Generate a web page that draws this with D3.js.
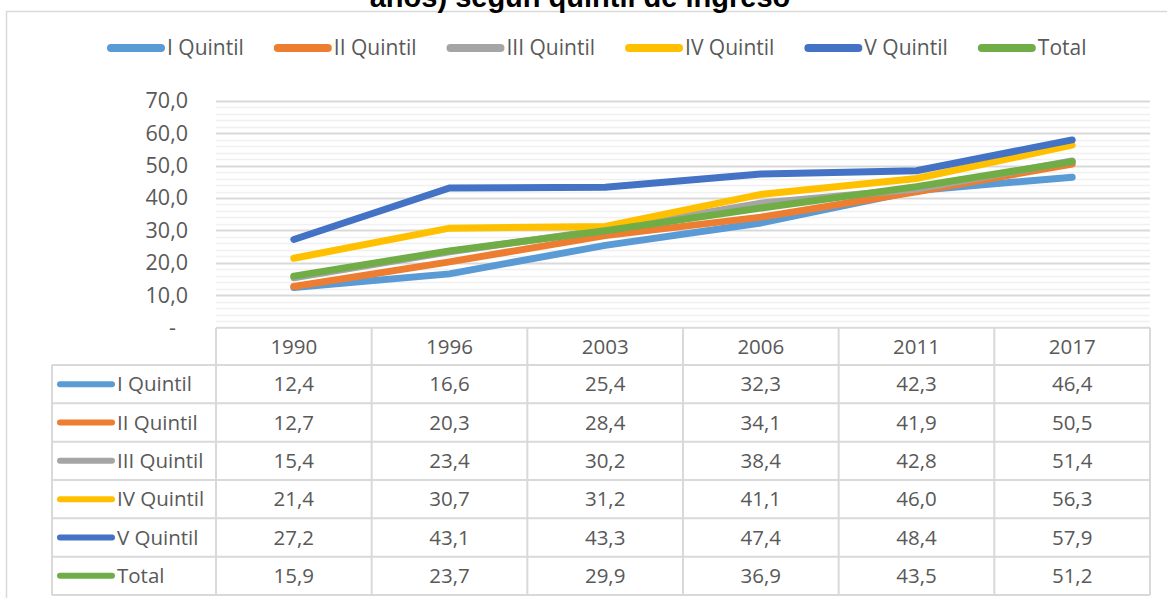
<!DOCTYPE html>
<html>
<head>
<meta charset="utf-8">
<script src="https://cdn.jsdelivr.net/npm/d3@7"></script>
<style>
  body { margin: 0; background: #fff; }
  svg { display: block; font-family: "Open Sans", sans-serif; }
</style>
</head>
<body>
<div id="chart"></div>
<script>
const years = ["1990", "1996", "2003", "2006", "2011", "2017"];
const seriesNames = ["I Quintil", "II Quintil", "III Quintil", "IV Quintil", "V Quintil", "Total"];
const seriesColors = ["#5B9BD5", "#ED7D31", "#A5A5A5", "#FFC000", "#4472C4", "#70AD47"];
const quintil1 = [12.4, 16.6, 25.4, 32.3, 42.3, 46.4];
const quintil2 = [12.7, 20.3, 28.4, 34.1, 41.9, 50.5];
const quintil3 = [15.4, 23.4, 30.2, 38.4, 42.8, 51.4];
const quintil4 = [21.4, 30.7, 31.2, 41.1, 46.0, 56.3];
const quintil5 = [27.2, 43.1, 43.3, 47.4, 48.4, 57.9];
const total = [15.9, 23.7, 29.9, 36.9, 43.5, 51.2];
const yTicks = [0, 10, 20, 30, 40, 50, 60, 70];
const titleText = "años) según quintil de ingreso";

const values = [quintil1, quintil2, quintil3, quintil4, quintil5, total];

const WIDTH = 1167;
const HEIGHT = 598;
const textColor = "#595959";
const gridMajor = "#d9d9d9";
const gridMinor = "#f0f0f0";

const plot = { left: 216, right: 1150, top: 100.7, bottom: 327.7 };
const headerH = 37.3;
const rowH = 38.33;
const keyLeft = 52;

const svg = d3.select("#chart")
  .append("svg")
  .attr("width", WIDTH)
  .attr("height", HEIGHT);

//outer chart border (cut off on the right and bottom)
svg.append("path")
  .attr("d", `M6.5,${HEIGHT + 5} V11.5 H${WIDTH + 5}`)
  .attr("fill", "none")
  .attr("stroke", gridMajor)
  .attr("stroke-width", 1.5);

//title, only the lower part is visible in the reference
svg.append("text")
  .attr("x", 580)
  .attr("y", 7)
  .attr("text-anchor", "middle")
  .style("font-family", "'Liberation Sans', Arial, sans-serif")
  .style("font-weight", "bold")
  .style("font-size", "29px")
  .style("fill", "#000")
  .text(titleText);

//scales
const x = d3.scaleBand().domain(years).range([plot.left, plot.right]);
const y = d3.scaleLinear().domain([0, 70]).range([plot.bottom, plot.top]);
const xc = (d) => x(d) + x.bandwidth() / 2;

//gridlines, minor every 2 and major every 10
const minorTicks = d3.range(2, 70, 2).filter((v) => v % 10 !== 0);
svg.append("g")
  .selectAll("line")
  .data(minorTicks)
  .enter()
  .append("line")
  .attr("x1", plot.left)
  .attr("x2", plot.right)
  .attr("y1", (d) => Math.round(y(d)) + 0.5)
  .attr("y2", (d) => Math.round(y(d)) + 0.5)
  .attr("stroke", gridMinor)
  .attr("stroke-width", 1.5);

svg.append("g")
  .selectAll("line")
  .data(yTicks.slice(1))
  .enter()
  .append("line")
  .attr("x1", plot.left)
  .attr("x2", plot.right)
  .attr("y1", (d) => Math.round(y(d)) + 0.5)
  .attr("y2", (d) => Math.round(y(d)) + 0.5)
  .attr("stroke", gridMajor)
  .attr("stroke-width", 2);

//y axis labels
const yAxis = svg.append("g")
  .attr("transform", `translate(${plot.left},0)`)
  .call(
    d3.axisLeft(y)
      .tickValues(yTicks)
      .tickSize(0)
      .tickPadding(28)
      .tickFormat((d) => (d === 0 ? "-" : d3.format(".1f")(d).replace(".", ",")))
  );
yAxis.select(".domain").remove();
yAxis.selectAll("text")
  .style("font-family", "'Open Sans', sans-serif")
  .style("font-size", "21.5px")
  .style("fill", textColor)
  .attr("dx", (d) => (d === 0 ? -12 : 0));

//lines
const line = d3.line()
  .x((d, i) => xc(years[i]))
  .y((d) => y(d));

svg.append("g")
  .selectAll("path")
  .data(values)
  .enter()
  .append("path")
  .attr("d", (d) => line(d))
  .attr("fill", "none")
  .attr("stroke", (d, i) => seriesColors[i])
  .attr("stroke-width", 7)
  .attr("stroke-linecap", "round")
  .attr("stroke-linejoin", "miter");

//top legend
const legend = svg.append("g").attr("transform", "translate(107,48)");
let lx = 0;
seriesNames.forEach((name, i) => {
  const item = legend.append("g").attr("transform", `translate(${lx},0)`);
  item.append("line")
    .attr("x1", 4).attr("x2", 54)
    .attr("y1", 0).attr("y2", 0)
    .attr("stroke", seriesColors[i])
    .attr("stroke-width", 8)
    .attr("stroke-linecap", "round");
  const t = item.append("text")
    .attr("x", 60)
    .attr("y", 0)
    .attr("dy", "0.35em")
    .style("font-size", "21px")
    .style("fill", textColor)
    .text(name);
  lx += 60 + t.node().getComputedTextLength() + 30;
});

//data table
const table = svg.append("g");
const rowTop = (i) => plot.bottom + headerH + i * rowH;
const tableBottom = rowTop(seriesNames.length);

//horizontal borders
table.append("line")
  .attr("x1", plot.left).attr("x2", plot.right)
  .attr("y1", plot.bottom).attr("y2", plot.bottom)
  .attr("stroke", gridMajor).attr("stroke-width", 2);
table.selectAll(".hrow")
  .data(d3.range(seriesNames.length + 1))
  .enter()
  .append("line")
  .attr("x1", keyLeft).attr("x2", plot.right)
  .attr("y1", (d) => rowTop(d)).attr("y2", (d) => rowTop(d))
  .attr("stroke", gridMajor).attr("stroke-width", 2);

//vertical borders
table.selectAll(".vcol")
  .data(years.map((d) => x(d)).concat([plot.right]))
  .enter()
  .append("line")
  .attr("x1", (d) => d).attr("x2", (d) => d)
  .attr("y1", plot.bottom).attr("y2", tableBottom)
  .attr("stroke", gridMajor).attr("stroke-width", 2);
table.append("line")
  .attr("x1", keyLeft).attr("x2", keyLeft)
  .attr("y1", rowTop(0)).attr("y2", tableBottom)
  .attr("stroke", gridMajor).attr("stroke-width", 2);

//header
table.selectAll(".year")
  .data(years)
  .enter()
  .append("text")
  .attr("x", (d) => xc(d))
  .attr("y", plot.bottom + headerH / 2)
  .attr("dy", "0.35em")
  .attr("text-anchor", "middle")
  .style("font-size", "20.5px")
  .style("fill", textColor)
  .text((d) => d);

//rows
seriesNames.forEach((name, i) => {
  const cy = rowTop(i) + rowH / 2;
  table.append("line")
    .attr("x1", 60).attr("x2", 112)
    .attr("y1", cy).attr("y2", cy)
    .attr("stroke", seriesColors[i])
    .attr("stroke-width", 6)
    .attr("stroke-linecap", "round");
  table.append("text")
    .attr("x", 117)
    .attr("y", cy)
    .attr("dy", "0.35em")
    .style("font-size", "20.5px")
    .style("fill", textColor)
    .text(name);
  table.selectAll(".v" + i)
    .data(values[i])
    .enter()
    .append("text")
    .attr("x", (d, j) => xc(years[j]))
    .attr("y", cy)
    .attr("dy", "0.35em")
    .attr("text-anchor", "middle")
    .style("font-size", "20.5px")
    .style("fill", textColor)
    .text((d) => d3.format(".1f")(d).replace(".", ","));
});
</script>
</body>
</html>
